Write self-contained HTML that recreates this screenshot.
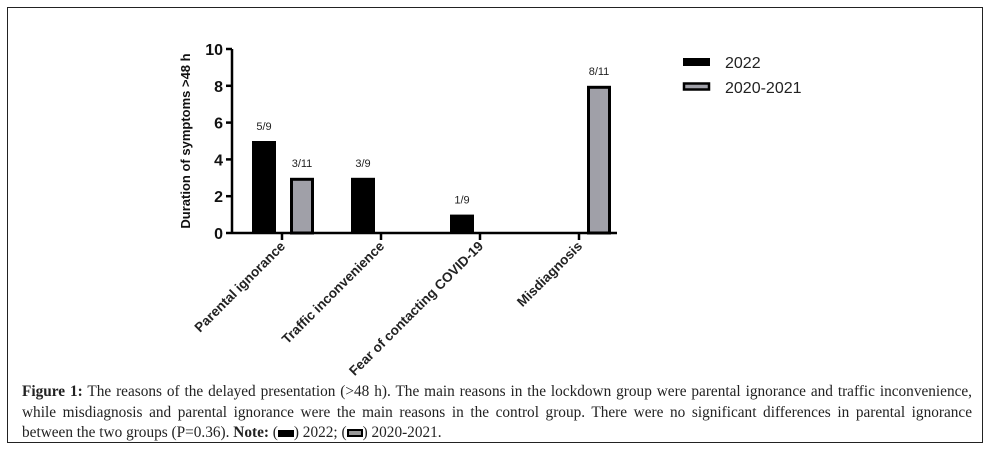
<!DOCTYPE html>
<html><head><meta charset="utf-8"><style>
html,body{margin:0;padding:0;background:#fff;width:991px;height:457px;overflow:hidden}
#frame{position:absolute;left:7px;top:7px;width:976px;height:436px;border:1px solid #222;box-sizing:border-box}
#cap{position:absolute;left:22px;top:382px;width:950px;font-family:"Liberation Serif",serif;font-size:15.3px;line-height:20.5px;color:#222;white-space:nowrap}
#cap .j{text-align:justify;text-align-last:justify}
svg{position:absolute;left:0;top:0}
</style></head><body>
<div id="frame"></div>
<svg id="chart" width="991" height="380"></svg>
<div id="cap"><div class="j" style="white-space:normal"><b>Figure 1:</b> The reasons of the delayed presentation (&gt;48 h). The main reasons in the lockdown group were parental ignorance and traffic inconvenience,</div><div class="j" style="white-space:normal">while misdiagnosis and parental ignorance were the main reasons in the control group. There were no significant differences in parental ignorance</div><div>between the two groups (P=0.36). <b>Note:</b> (<span style="display:inline-block;width:16px;height:7px;background:#000;vertical-align:middle"></span>) 2022; (<span style="display:inline-block;width:12px;height:4px;background:#999;border:2px solid #000;vertical-align:middle"></span>) 2020-2021.</div></div>
<script>
const categories=["Parental ignorance","Traffic inconvenience","Fear of contacting COVID-19","Misdiagnosis"];
const series2022=[5,3,1,0];
const series2020=[3,0,0,8];
const labels2022=["5/9","3/9","1/9",""];
const labels2020=["3/11","","","8/11"];
const yTicks=[0,2,4,6,8,10];
const NS="http://www.w3.org/2000/svg";
const svg=document.getElementById('chart');
const x0=232,x1=617,yBase=233,yTop=49;
const y=v=>yBase-(v/10)*(yBase-yTop);
const xc=i=>282+i*99;
function mk(t,a,p){const e=document.createElementNS(NS,t);for(const k in a)e.setAttribute(k,a[k]);(p||svg).appendChild(e);return e;}
let e;
e=mk('line',{x1:x0,y1:yTop,x2:x0,y2:yBase+1,stroke:'#000','stroke-width':2.5});

e=mk('line',{x1:x0,y1:yBase,x2:x1,y2:yBase,stroke:'#000','stroke-width':2.5});

yTicks.forEach(v=>{
 mk('line',{x1:x0-6,y1:y(v),x2:x0,y2:y(v),stroke:'#000','stroke-width':2.5});
 e=mk('text',{x:x0-9,y:y(v)+6,'text-anchor':'end','font-family':'Liberation Sans,sans-serif','font-size':16,'font-weight':'bold',fill:'#111'});
 e.textContent=v;
});
e=mk('text',{x:0,y:0,transform:'translate(190,141) rotate(-90)','text-anchor':'middle','font-family':'Liberation Sans,sans-serif','font-size':13,'font-weight':'bold',fill:'#111'});
e.textContent='Duration of symptoms >48 h';
categories.forEach((c,i)=>{
 const cx=xc(i);
 mk('line',{x1:cx,y1:yBase,x2:cx,y2:yBase+7,stroke:'#000','stroke-width':2.5});
 e=mk('text',{x:0,y:0,transform:`translate(${cx+4},${yBase+14}) rotate(-45)`,'text-anchor':'end','font-family':'Liberation Sans,sans-serif','font-size':13.5,'font-weight':'bold',fill:'#222'});
 e.textContent=c;
 if(series2022[i]>0){
  e=mk('rect',{x:cx-30,y:y(series2022[i]),width:24,height:yBase-y(series2022[i]),fill:'#000'});
  
 }
 if(labels2022[i]){e=mk('text',{x:cx-18,y:y(series2022[i])-11,'text-anchor':'middle','font-family':'Liberation Sans,sans-serif','font-size':11,fill:'#222'});e.textContent=labels2022[i];}
 if(series2020[i]>0){
  e=mk('rect',{x:cx+9.5,y:y(series2020[i])+1.5,width:21,height:yBase-y(series2020[i])-1.5,fill:'#a0a0a8',stroke:'#000','stroke-width':3});
  
 }
 if(labels2020[i]){e=mk('text',{x:cx+20,y:y(series2020[i])-11,'text-anchor':'middle','font-family':'Liberation Sans,sans-serif','font-size':11,fill:'#222'});e.textContent=labels2020[i];}
});
e=mk('rect',{x:683,y:58,width:27,height:8,fill:'#000'});

e=mk('text',{x:725,y:68,'font-family':'Liberation Sans,sans-serif','font-size':16,fill:'#222'});e.textContent='2022';

e=mk('rect',{x:684,y:83.5,width:25,height:6,fill:'#a0a0a8',stroke:'#000','stroke-width':2.5});

e=mk('text',{x:725,y:93,'font-family':'Liberation Sans,sans-serif','font-size':16,fill:'#222'});e.textContent='2020-2021';

</script>
</body></html>
